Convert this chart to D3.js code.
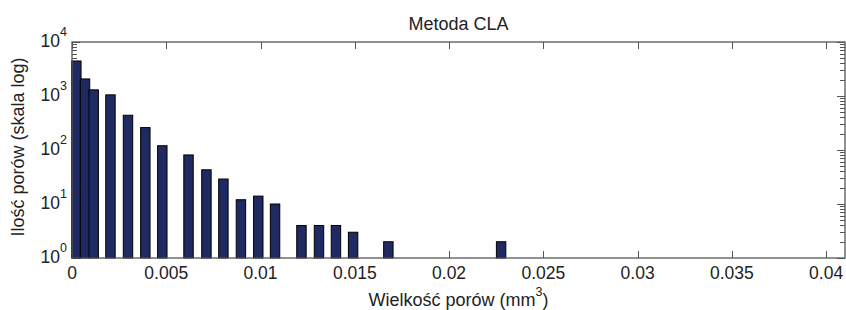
<!DOCTYPE html>
<html>
<head>
<meta charset="utf-8">
<script src="https://cdn.jsdelivr.net/npm/d3@7"></script>
<style>
  body { margin: 0; background: #fff; }
  svg { display: block; font-family: "Liberation Sans", Arial, sans-serif; }
</style>
</head>
<body>
<svg id="chart" width="846" height="310"></svg>
<script>
// Data (bin centres in mm^3, pore counts)
const binCenters = [0.00023, 0.00069, 0.00115, 0.00204, 0.00297, 0.00389, 0.00479,
  0.00618, 0.00713, 0.00803, 0.00896, 0.00988, 0.01077, 0.01217, 0.0131, 0.014,
  0.01491, 0.01678, 0.02276];
const poreCounts = [4450, 2070, 1300, 1050, 440, 260, 120, 81, 43, 29, 12, 14, 10, 4, 4, 4, 3, 2, 2];

const xTicks = [0, 0.005, 0.01, 0.015, 0.02, 0.025, 0.03, 0.035, 0.04];
const xTickLabels = ['0', '0.005', '0.01', '0.015', '0.02', '0.025', '0.03', '0.035', '0.04'];
const yExponents = [0, 1, 2, 3, 4];

const title = 'Metoda CLA';
const yLabel = 'Ilość porów (skala log)';
const xLabelMain = 'Wielkość porów (mm';

// Layout
const plot = { left: 72, top: 42, right: 845, bottom: 258 };
const barWidth = 0.0005; // in data units
const axisColor = '#555';
const textColor = '#222';
const barFill = '#1f2a62';

const svg = d3.select('#chart');

const x = d3.scaleLinear().domain([0, 0.041]).range([plot.left, plot.right]);
const y = d3.scaleLog().domain([1, 1e4]).range([plot.bottom, plot.top]);

const logTicks = y.ticks();
const isMajor = v => Math.abs(Math.log10(v) - Math.round(Math.log10(v))) < 1e-9;
const minorTicks = logTicks.filter(v => !isMajor(v));
const majorTicks = logTicks.filter(isMajor);

// Ticks (drawn below the bars)
const ticks = svg.append('g').attr('stroke', axisColor).attr('stroke-width', 1);
xTicks.forEach(t => {
  const px = Math.round(x(t)) + 0.5;
  ticks.append('line').attr('x1', px).attr('x2', px).attr('y1', plot.bottom).attr('y2', plot.bottom - 7);
  ticks.append('line').attr('x1', px).attr('x2', px).attr('y1', plot.top).attr('y2', plot.top + 7);
});
[[minorTicks, 5], [majorTicks, 8]].forEach(([vals, len]) => {
  vals.forEach(v => {
    const py = Math.round(y(v)) + 0.5;
    ticks.append('line').attr('x1', plot.left).attr('x2', plot.left + len).attr('y1', py).attr('y2', py);
    ticks.append('line').attr('x1', plot.right).attr('x2', plot.right - len).attr('y1', py).attr('y2', py);
  });
});

// Bars
const bw = x(barWidth) - x(0);
svg.append('g').selectAll('rect')
  .data(binCenters.map((c, i) => ({ c, n: poreCounts[i] })))
  .enter()
  .append('rect')
  .attr('x', d => x(d.c) - bw / 2)
  .attr('width', bw)
  .attr('y', d => y(d.n))
  .attr('height', d => y(1) - y(d.n))
  .attr('fill', barFill)
  .attr('stroke', '#000')
  .attr('stroke-width', 1);

// Axes box
svg.append('rect')
  .attr('x', plot.left).attr('y', plot.top)
  .attr('width', plot.right - plot.left).attr('height', plot.bottom - plot.top)
  .attr('fill', 'none').attr('stroke', axisColor).attr('stroke-width', 1.3);

// X tick labels
svg.append('g').selectAll('text')
  .data(xTicks)
  .enter()
  .append('text')
  .attr('x', d => x(d))
  .attr('y', 279)
  .attr('text-anchor', 'middle')
  .attr('font-size', '17.5px')
  .attr('fill', textColor)
  .text((d, i) => xTickLabels[i]);

// Y tick labels: 10^n
const yLabels = svg.append('g');
yExponents.forEach(e => {
  const t = yLabels.append('text')
    .attr('x', 67)
    .attr('y', y(Math.pow(10, e)) + 5)
    .attr('text-anchor', 'end')
    .attr('fill', textColor);
  t.append('tspan').attr('font-size', '17.5px').text('10');
  t.append('tspan').attr('font-size', '12.5px').attr('dy', -11).text(e);
});

// Title
svg.append('text')
  .attr('x', (plot.left + plot.right) / 2)
  .attr('y', 30)
  .attr('text-anchor', 'middle')
  .attr('font-size', '18px')
  .attr('fill', textColor)
  .text(title);

// X axis label with superscript
const xl = svg.append('text')
  .attr('x', (plot.left + plot.right) / 2)
  .attr('y', 306)
  .attr('text-anchor', 'middle')
  .attr('font-size', '18px')
  .attr('fill', textColor);
xl.append('tspan').text(xLabelMain);
xl.append('tspan').attr('font-size', '12.5px').attr('dy', -10).text('3');
xl.append('tspan').attr('dy', 10).text(')');

// Y axis label
svg.append('text')
  .attr('transform', 'translate(24,147) rotate(-90)')
  .attr('text-anchor', 'middle')
  .attr('font-size', '18px')
  .attr('fill', textColor)
  .text(yLabel);
</script>
</body>
</html>
